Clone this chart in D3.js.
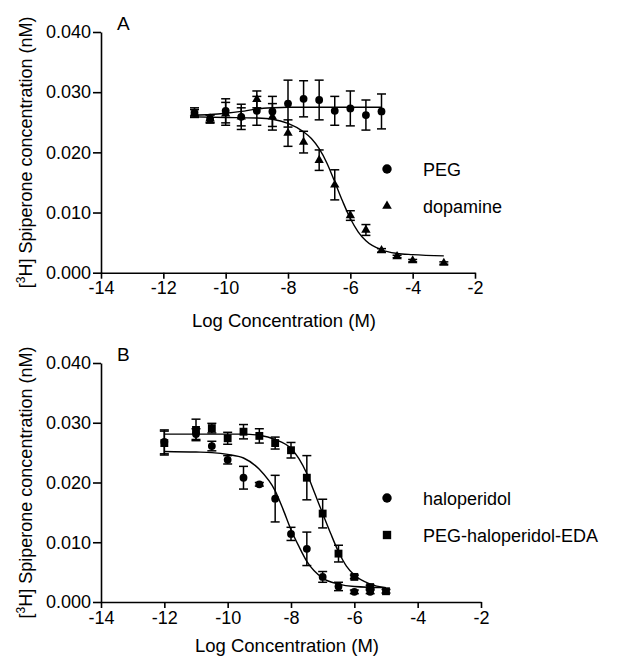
<!DOCTYPE html>
<html>
<head>
<meta charset="utf-8">
<script src="https://cdn.jsdelivr.net/npm/d3@7"></script>
<style>
  html, body { margin: 0; padding: 0; background: #fff; }
  svg { display: block; font-family: "Liberation Sans", Arial, sans-serif; }
</style>
</head>
<body>
<svg id="chart" width="640" height="658"></svg>
<script>
// ---------- DATA ----------
const xTicks = [-14, -12, -10, -8, -6, -4, -2];
const yTicks = [0, 0.01, 0.02, 0.03, 0.04];

// Panel A
const pegX   = [-11, -10.5, -10, -9.5, -9, -8.5, -8, -7.5, -7, -6.5, -6, -5.5, -5];
const pegY   = [0.0266, 0.02555, 0.0269, 0.0259, 0.0269, 0.0268, 0.0281, 0.0289, 0.0287, 0.0269, 0.0273, 0.0262, 0.0268];
const pegErr = [0.0008, 0.0007, 0.0020, 0.0021, 0.0024, 0.0025, 0.0039, 0.0030, 0.0033, 0.0024, 0.0029, 0.0025, 0.0029];

const dopX   = [-11, -10.5, -10, -9.5, -9, -8.5, -8, -7.5, -7, -6.5, -6, -5.5, -5, -4.5, -4, -3];
const dopY   = [0.0265, 0.0256, 0.0264, 0.0259, 0.0288, 0.0259, 0.0232, 0.0217, 0.0187, 0.0146, 0.0095, 0.0071, 0.0037, 0.0027, 0.0020, 0.0016];
const dopErr = [0.0006, 0.0006, 0.0019, 0.0015, 0.0014, 0.0022, 0.0022, 0.0018, 0.0017, 0.0025, 0.0008, 0.0009, 0.0003, 0.0002, 0.0002, 0.0002];

const pegFitX = [-11, -10.5, -10, -9.5, -9, -8.5, -8, -7, -6, -5];
const pegFitY = [0.0262, 0.0263, 0.0265, 0.0268, 0.0272, 0.0274, 0.0275, 0.0275, 0.0275, 0.0275];
const dopFitX = [-11, -10, -9, -8.5, -8, -7.5, -7.25, -7, -6.75, -6.5, -6.25, -6, -5.75, -5.5, -5, -4.5, -4, -3];
const dopFitY = [0.0259, 0.0258, 0.0257, 0.0255, 0.0248, 0.0234, 0.0223, 0.0206, 0.0182, 0.0151, 0.0119, 0.0090, 0.0068, 0.0053, 0.0038, 0.0032, 0.0030, 0.0028];

// Panel B
const haloX   = [-12, -11, -10.5, -10, -9.5, -9, -8.5, -8, -7.5, -7, -6.5, -6, -5.5];
const haloY   = [0.0268, 0.0281, 0.0261, 0.0238, 0.0208, 0.0197, 0.0173, 0.0114, 0.0089, 0.0042, 0.0026, 0.0017, 0.0017];
const haloErr = [0.0020, 0.0009, 0.0008, 0.0007, 0.0019, 0.0003, 0.0039, 0.0011, 0.0028, 0.0009, 0.0007, 0.0003, 0.0003];

const pegHaloX   = [-12, -11, -10.5, -10, -9.5, -9, -8.5, -8, -7.5, -7, -6.5, -6, -5.5, -5];
const pegHaloY   = [0.0266, 0.0288, 0.0291, 0.0274, 0.0285, 0.0278, 0.0266, 0.0254, 0.0208, 0.0148, 0.0081, 0.0042, 0.0025, 0.0018];
const pegHaloErr = [0.0020, 0.0018, 0.0008, 0.0010, 0.0012, 0.0012, 0.0010, 0.0013, 0.0037, 0.0024, 0.0014, 0.0003, 0.0003, 0.0003];

const haloFitX = [-12, -11, -10.5, -10, -9.5, -9, -8.5, -8.25, -8, -7.75, -7.5, -7, -6.5, -6, -5];
const haloFitY = [0.0252, 0.0251, 0.0250, 0.0247, 0.0241, 0.0222, 0.0186, 0.0155, 0.0121, 0.0093, 0.0068, 0.0040, 0.0030, 0.0026, 0.0024];
const pegHaloFitX = [-12, -11, -10, -9.5, -9, -8.5, -8, -7.75, -7.5, -7.25, -7, -6.75, -6.5, -6.25, -6, -5.5, -5];
const pegHaloFitY = [0.0281, 0.0281, 0.0281, 0.0281, 0.0279, 0.0272, 0.0257, 0.0240, 0.0215, 0.0182, 0.0148, 0.0115, 0.0084, 0.0060, 0.0045, 0.0030, 0.0024];

const xTitle = "Log Concentration (M)";

// ---------- DRAW ----------
const svg = d3.select("#chart");

function zip(xs, ys, es) { return xs.map((x, i) => ({x, y: ys[i], e: es ? es[i] : 0})); }

function panel(opts) {
  const x = d3.scaleLinear().domain([-14, -2]).range([opts.x0, opts.x1]);
  const y = d3.scaleLinear().domain([0, 0.04]).range([opts.y0, opts.y1]);
  const g = svg.append("g");

  // axes
  const ax = g.append("g").attr("transform", `translate(0,${opts.y0})`)
    .call(d3.axisBottom(x).tickValues(xTicks).tickFormat(d => String(d)).tickSize(6).tickPadding(3).tickSizeOuter(0));
  const ay = g.append("g").attr("transform", `translate(${opts.x0},0)`)
    .call(d3.axisLeft(y).tickValues(yTicks).tickFormat(d3.format(".3f")).tickSize(8).tickPadding(2).tickSizeOuter(0));
  [ax, ay].forEach(a => {
    a.selectAll("path, line").attr("stroke", "#000").attr("stroke-width", 1.6);
    a.selectAll("text").attr("fill", "#000").style("font-size", "18px").style("font-family", "Liberation Sans, Arial, sans-serif");
  });

  // titles
  g.append("text").attr("x", (opts.x0 + opts.x1) / 2 - 4).attr("y", opts.y0 + opts.titleOff)
    .attr("text-anchor", "middle").style("font-size", "18.5px").text(xTitle);
  const yt = g.append("text")
    .attr("transform", `translate(32,${(opts.y0 + opts.y1) / 2}) rotate(-90)`)
    .attr("text-anchor", "middle").style("font-size", "18px");
  yt.append("tspan").text("[");
  yt.append("tspan").text("3").style("font-size", "12px").attr("dy", "-7");
  yt.append("tspan").text("H] Spiperone concentration (nM)").attr("dy", "7");

  g.append("text").attr("x", opts.x0 + 16).attr("y", opts.y1 - 2)
    .style("font-size", "19px").text(opts.label);

  // fit curves
  const line = d3.line().x(d => x(d.x)).y(d => y(d.y)).curve(d3.curveMonotoneX);
  opts.fits.forEach(f => {
    g.append("path").datum(zip(f.x, f.y)).attr("d", line)
      .attr("fill", "none").attr("stroke", "#000").attr("stroke-width", 1.4);
  });

  // error bars + markers
  opts.series.forEach(s => {
    const data = zip(s.x, s.y, s.e);
    const eb = g.append("g").attr("stroke", "#000").attr("stroke-width", 1.5);
    data.forEach(d => {
      const yt = y(d.y + d.e), yb = y(d.y - d.e), cx = x(d.x);
      eb.append("line").attr("x1", cx).attr("x2", cx).attr("y1", yt).attr("y2", yb);
      eb.append("line").attr("x1", cx - 4.5).attr("x2", cx + 4.5).attr("y1", yt).attr("y2", yt);
      eb.append("line").attr("x1", cx - 4.5).attr("x2", cx + 4.5).attr("y1", yb).attr("y2", yb);
    });
    g.append("g").selectAll("path").data(data).join("path")
      .attr("transform", d => `translate(${x(d.x)},${y(d.y)})`)
      .attr("d", d3.symbol().type(s.sym).size(s.size))
      .attr("fill", "#000");
  });

  // legend
  opts.series.forEach((s, i) => {
    const ly = opts.legY + i * 37;
    g.append("path").attr("transform", `translate(387,${ly})`)
      .attr("d", d3.symbol().type(s.sym).size(s.legSize)).attr("fill", "#000");
    g.append("text").attr("x", 423).attr("y", ly + 6.5).style("font-size", "18px").text(s.name);
  });
}

panel({
  x0: 101, x1: 475, y0: 272.7, y1: 32, label: "A", legY: 169, titleOff: 54,
  fits: [{x: pegFitX, y: pegFitY}, {x: dopFitX, y: dopFitY}],
  series: [
    {name: "PEG", x: pegX, y: pegY, e: pegErr, sym: d3.symbolCircle, size: 48, legSize: 70},
    {name: "dopamine", x: dopX, y: dopY, e: dopErr, sym: d3.symbolTriangle, size: 38, legSize: 40}
  ]
});

panel({
  x0: 101, x1: 481, y0: 602, y1: 363, label: "B", legY: 498, titleOff: 50,
  fits: [{x: haloFitX, y: haloFitY}, {x: pegHaloFitX, y: pegHaloFitY}],
  series: [
    {name: "haloperidol", x: haloX, y: haloY, e: haloErr, sym: d3.symbolCircle, size: 48, legSize: 70},
    {name: "PEG-haloperidol-EDA", x: pegHaloX, y: pegHaloY, e: pegHaloErr, sym: d3.symbolSquare, size: 62, legSize: 70}
  ]
});
</script>
</body>
</html>
